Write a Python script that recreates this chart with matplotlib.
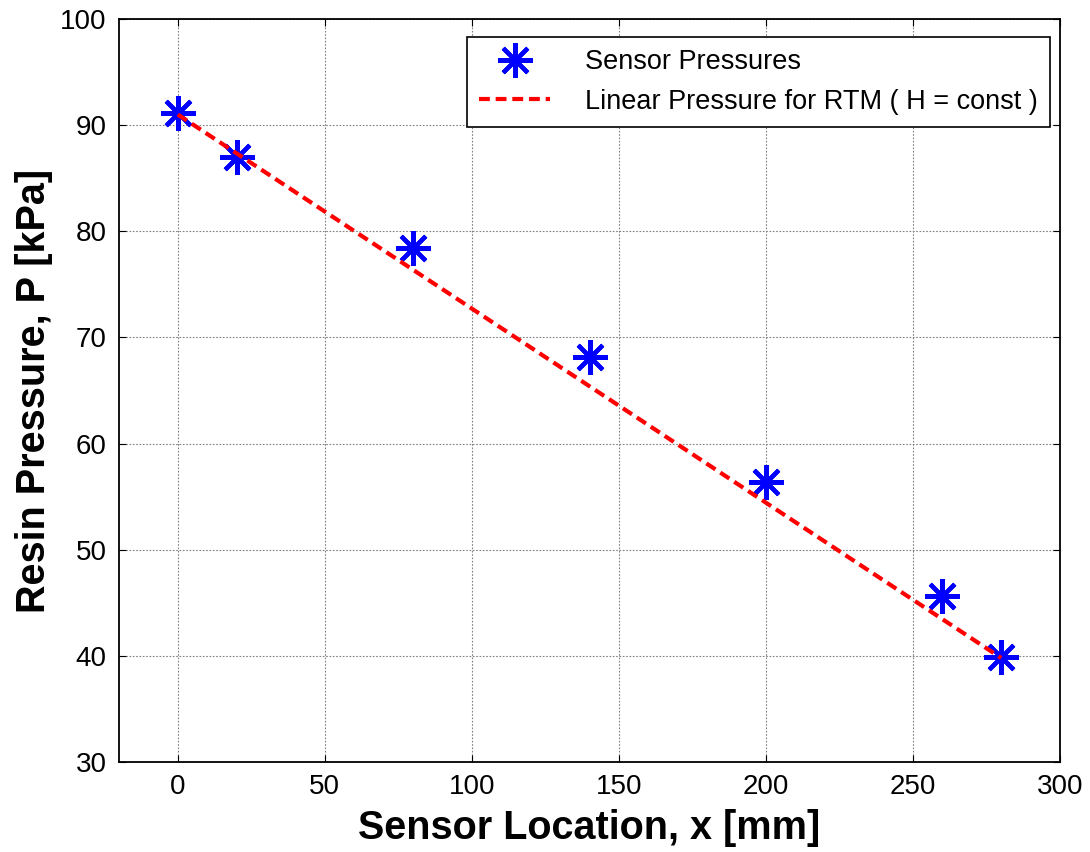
import numpy as np
import matplotlib
matplotlib.use('Agg')
from matplotlib import pyplot as plt

plt.rcParams['font.family'] = ['Liberation Sans', 'DejaVu Sans']

# sensor data
x_sensor = [0, 20, 80, 140, 200, 260, 280]
p_sensor = [91.1, 87.0, 78.4, 68.2, 56.4, 45.6, 39.9]

# linear RTM pressure
x_line = [0, 280]
p_line = [91.0, 39.8]

fig = plt.figure(figsize=(10.9, 8.52), dpi=100)
# axes box: px 119..1060 horizontally, 19..762 vertically
ax = fig.add_axes([119/1090, 1 - 762/852, 941/1090, 743/852])

ax.plot(x_sensor, p_sensor, linestyle='none', marker=(8, 2, 0), markersize=25,
        markeredgewidth=3.0, color='#0000ff', label='Sensor Pressures', zorder=3)
ax.plot(x_line, p_line, '--', color='#ff0000', linewidth=3.0, dashes=(2.6, 1.4),
        label='Linear Pressure for RTM ( H = const )', zorder=4)

ax.set_xlim(-20, 300)
ax.set_ylim(30, 100)
ax.set_xticks(np.arange(0, 301, 50))
ax.set_yticks(np.arange(30, 101, 10))
ax.grid(True, color='#808080', linestyle=(0, (1.5, 1.5)), linewidth=0.8)
ax.tick_params(direction='in', top=True, right=True, labelsize=20, length=5, pad=9)
for s in ax.spines.values():
    s.set_linewidth(1.3)

ax.set_xlabel('Sensor Location, x [mm]', fontsize=28.5, fontweight='bold', labelpad=6)
ax.set_ylabel('Resin Pressure, P [kPa]', fontsize=28.5, fontweight='bold', labelpad=5)

leg = ax.legend(loc='upper right', bbox_to_anchor=(0.9894, 0.9758), borderaxespad=0,
                fontsize=19.5, fancybox=False, framealpha=1, edgecolor='black',
                handlelength=2.6, borderpad=0.45, labelspacing=0.5, handletextpad=1.3)
leg.get_frame().set_linewidth(1.2)

fig.savefig('out.png', dpi=100)
